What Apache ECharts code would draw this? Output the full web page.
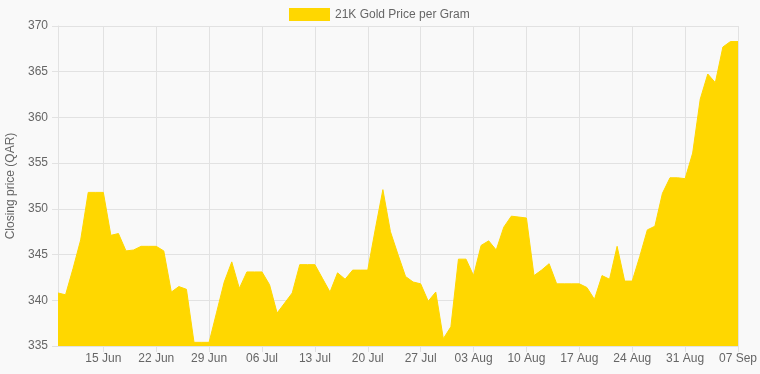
<!DOCTYPE html>
<html>
<head>
<meta charset="utf-8">
<script src="https://cdn.jsdelivr.net/npm/echarts@6/dist/echarts.min.js"></script>
<style>
html,body{margin:0;padding:0;background:#f9f9f9;}
#chart{width:760px;height:374px;}
</style>
</head>
<body>
<div id="chart"></div>
<script>
// Daily categories from 09 Jun to 07 Sep
const startDate = [2025, 5, 9]; // year, month index, day
const dayCount = 91;
const monthNames = ['Jan','Feb','Mar','Apr','May','Jun','Jul','Aug','Sep','Oct','Nov','Dec'];
const categories = [];
for (let i = 0; i < dayCount; i++) {
  const d = new Date(Date.UTC(startDate[0], startDate[1], startDate[2] + i));
  categories.push(String(d.getUTCDate()).padStart(2, '0') + ' ' + monthNames[d.getUTCMonth()]);
}
const tickLabels = ['15 Jun','22 Jun','29 Jun','06 Jul','13 Jul','20 Jul','27 Jul','03 Aug','10 Aug','17 Aug','24 Aug','31 Aug','07 Sep'];

const seriesName = '21K Gold Price per Gram';
const prices = [
  340.8, 340.6, 343.5, 346.6, 351.8, 351.8, 351.8, 347.1, 347.3, 345.4,
  345.5, 345.9, 345.9, 345.9, 345.4, 340.9, 341.5, 341.2, 335.4, 335.4,
  335.4, 338.7, 342.0, 344.2, 341.3, 343.1, 343.1, 343.1, 341.7, 338.6,
  339.7, 340.8, 343.9, 343.9, 343.9, 342.4, 340.9, 343.0, 342.3, 343.3,
  343.3, 343.3, 347.8, 352.1, 347.5, 345.0, 342.6, 342.0, 341.8, 339.9,
  340.9, 335.8, 337.1, 344.5, 344.5, 342.7, 346.0, 346.5, 345.5, 348.0,
  349.2, 349.1, 349.0, 342.7, 343.3, 344.0, 341.8, 341.8, 341.8, 341.8,
  341.4, 340.1, 342.7, 342.3, 345.9, 342.1, 342.1, 344.8, 347.7, 348.1,
  351.7, 353.4, 353.4, 353.3, 356.1, 362.0, 364.75, 363.8, 367.7, 368.3,
  368.3
];

const yTicks = [335, 340, 345, 350, 355, 360, 365, 370];

const gridColor = '#e2e2e2';
const textColor = '#666666';
const fontFamily = '"Liberation Sans", Arial, Helvetica, sans-serif';
const showTick = (idx, val) => tickLabels.indexOf(val) !== -1;

const chart = echarts.init(document.getElementById('chart'), null, {renderer: 'canvas'});
chart.setOption({
  backgroundColor: '#f9f9f9',
  animation: false,
  textStyle: {fontFamily: fontFamily},
  legend: {
    top: 3,
    left: 284,
    icon: 'rect',
    itemWidth: 41,
    itemHeight: 13,
    itemGap: 5,
    textStyle: {color: textColor, fontSize: 12, fontFamily: fontFamily},
    data: [seriesName]
  },
  grid: {left: 58, right: 22, top: 26, bottom: 28, containLabel: false, outerBoundsMode: 'none'},
  xAxis: {
    type: 'category',
    data: categories,
    boundaryGap: false,
    axisLine: {show: true, lineStyle: {color: gridColor, width: 1}},
    axisTick: {show: true, length: 6, interval: showTick, lineStyle: {color: gridColor}},
    axisLabel: {color: textColor, fontSize: 12, margin: 7, interval: showTick, fontFamily: fontFamily},
    splitLine: {show: true, interval: showTick, lineStyle: {color: gridColor, width: 1}}
  },
  yAxis: {
    type: 'value',
    min: yTicks[0],
    max: yTicks[yTicks.length - 1],
    interval: 5,
    name: 'Closing price (QAR)',
    nameLocation: 'middle',
    nameRotate: 90,
    nameGap: 41,
    nameTextStyle: {color: textColor, fontSize: 12, fontFamily: fontFamily},
    axisLine: {show: true, lineStyle: {color: gridColor, width: 1}},
    axisTick: {show: true, length: 6, lineStyle: {color: gridColor}},
    axisLabel: {color: textColor, fontSize: 12, margin: 10, fontFamily: fontFamily},
    splitLine: {show: true, lineStyle: {color: gridColor, width: 1}}
  },
  series: [{
    name: seriesName,
    type: 'line',
    data: prices,
    symbol: 'none',
    smooth: false,
    itemStyle: {color: '#FFD700'},
    lineStyle: {color: '#FFD700', width: 1},
    areaStyle: {color: '#FFD700', opacity: 1, origin: 'start'}
  }]
});
</script>
</body>
</html>
